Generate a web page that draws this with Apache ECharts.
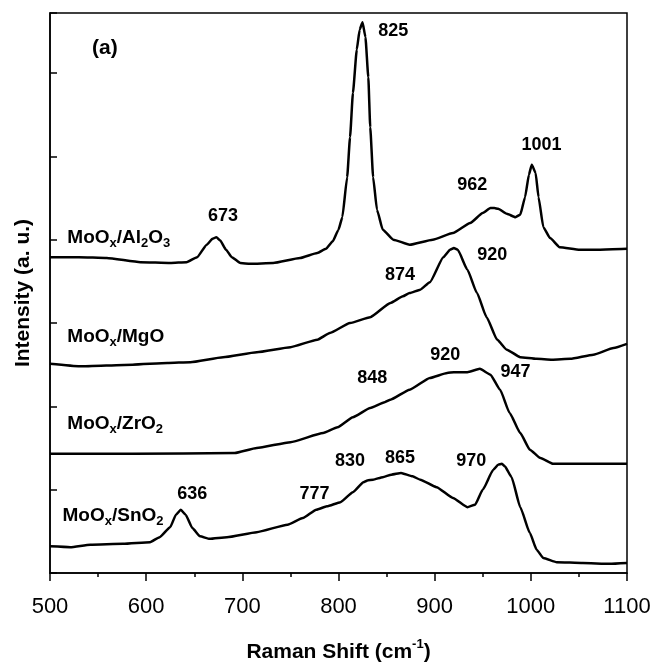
<!DOCTYPE html>
<html>
<head>
<meta charset="utf-8">
<script src="https://cdn.jsdelivr.net/npm/echarts@6/dist/echarts.min.js"></script>
<style>
  html, body { margin: 0; padding: 0; background: #fff; }
  #chart { width: 653px; height: 662px; }
</style>
</head>
<body>
<div id="chart"></div>
<script>
// Raman spectra of supported molybdenum oxide catalysts, offset vertically.
// Each spectrum: [Raman shift (cm-1), intensity (a. u., offset)]
const aluminaSpectrum = [
  [500,3.79],[530,3.79],[559,3.78],[594,3.73],[625,3.72],[642,3.73],[653,3.79],[663,3.94],
  [669,4.01],[673,4.03],[677,3.99],[683,3.88],[689,3.79],[698,3.72],[708,3.71],[732,3.72],
  [760,3.78],[778,3.84],[787,3.89],[794,3.98],[800,4.12],[804,4.27],[809,4.75],[812,5.23],
  [815,5.76],[819,6.28],[822,6.52],[825,6.61],[828,6.43],[831,5.95],[833,5.35],[836,4.75],
  [840,4.36],[846,4.12],[857,4.00],[874,3.94],[898,4.00],[919,4.08],[937,4.20],[950,4.32],
  [958,4.38],[962,4.38],[966,4.37],[975,4.31],[984,4.27],[989,4.30],[994,4.51],[998,4.78],
  [1001,4.90],[1005,4.80],[1008,4.51],[1013,4.15],[1020,4.02],[1030,3.91],[1051,3.88],
  [1072,3.88],[1100,3.89]
];
const magnesiaSpectrum = [
  [500,2.51],[531,2.48],[586,2.50],[622,2.52],[646,2.53],[680,2.59],[715,2.65],[750,2.71],
  [778,2.80],[791,2.88],[812,3.00],[833,3.07],[854,3.24],[867,3.32],[874,3.36],[885,3.40],
  [895,3.49],[909,3.79],[916,3.88],[920,3.90],[924,3.88],[934,3.64],[944,3.36],[954,3.07],
  [965,2.80],[975,2.68],[989,2.59],[1006,2.57],[1022,2.56],[1041,2.57],[1065,2.62],
  [1086,2.70],[1100,2.75]
];
const zirconiaSpectrum = [
  [500,1.43],[586,1.43],[692,1.44],[715,1.50],[750,1.57],[784,1.68],[799,1.75],[815,1.87],
  [833,1.98],[848,2.05],[854,2.08],[874,2.20],[895,2.34],[913,2.40],[920,2.41],[934,2.41],
  [947,2.45],[958,2.38],[968,2.20],[978,1.92],[989,1.68],[999,1.48],[1010,1.38],[1023,1.31],
  [1100,1.31]
];
const tinOxideSpectrum = [
  [500,0.32],[521,0.31],[542,0.34],[576,0.35],[604,0.37],[614,0.43],[625,0.55],[631,0.70],
  [636,0.76],[641,0.70],[648,0.54],[656,0.44],[666,0.41],[684,0.43],[715,0.49],[747,0.58],
  [763,0.66],[777,0.76],[788,0.80],[802,0.85],[815,0.97],[826,1.09],[830,1.11],[836,1.12],
  [846,1.15],[855,1.18],[865,1.20],[877,1.16],[885,1.12],[902,1.03],[919,0.90],[934,0.79],
  [942,0.82],[950,1.00],[961,1.24],[966,1.30],[970,1.31],[973,1.28],[980,1.15],[989,0.79],
  [999,0.48],[1006,0.28],[1013,0.18],[1027,0.13],[1054,0.12],[1082,0.11],[1100,0.12]
];

// Sample names (rich text: s = subscript)
const sampleNames = ['MoO{s|x}/Al{s|2}O{s|3}', 'MoO{s|x}/MgO', 'MoO{s|x}/ZrO{s|2}', 'MoO{s|x}/SnO{s|2}'];
const sampleNameAnchors = [[518, 4.02], [518, 2.83], [518, 1.79], [513, 0.69]];

// Band positions (cm-1) and where each note sits
const bandPositions = [673, 825, 962, 1001, 874, 920, 848, 920, 947, 636, 777, 830, 865, 970];
const bandNoteAnchors = [
  [680, 4.28], [857, 6.50], [939, 4.66], [1011, 5.14],
  [864, 3.58], [960, 3.82],
  [835, 2.34], [911, 2.62], [984, 2.41],
  [648, 0.95], [775, 0.95], [812, 1.34], [864, 1.38], [938, 1.34]
];
const panelTag = '(a)';
const panelTagAnchor = [557, 6.30];

const xTickValues = { min: 500, max: 1100, step: 100 };

const FONT = 'Liberation Sans, Arial, Helvetica, sans-serif';

const chart = echarts.init(document.getElementById('chart'), null, { renderer: 'canvas' });

function spectrumSeries(data) {
  return {
    type: 'line',
    data: data,
    showSymbol: false,
    smooth: 0.15,
    smoothMonotone: 'x',
    lineStyle: { color: '#000', width: 2.5, join: 'round' },
    emphasis: { disabled: true },
    z: 3
  };
}

function textSeries(items) {
  // items: [{ at: [x, y], text, style }]
  return {
    type: 'custom',
    data: items.map(it => it.at),
    clip: false,
    silent: true,
    z: 5,
    renderItem: function (params, api) {
      const item = items[params.dataIndex];
      const p = api.coord([api.value(0), api.value(1)]);
      return {
        type: 'text',
        x: p[0],
        y: p[1],
        style: Object.assign({
          text: item.text,
          fill: '#000',
          fontFamily: FONT,
          fontWeight: 'bold',
          fontSize: 18,
          align: 'center',
          verticalAlign: 'middle'
        }, item.style || {})
      };
    }
  };
}

const bandNotes = bandPositions.map((b, i) => ({ at: bandNoteAnchors[i], text: String(b) }));
const sampleNotes = sampleNames.map((n, i) => ({
  at: sampleNameAnchors[i],
  text: n,
  style: {
    align: 'left',
    fontSize: 19,
    lineHeight: 24,
    rich: {
      s: { fontFamily: FONT, fontWeight: 'bold', fontSize: 13, lineHeight: 13, verticalAlign: 'bottom', fill: '#000' }
    }
  }
}));
const tagNote = [{ at: panelTagAnchor, text: panelTag, style: { fontSize: 21 } }];

const option = {
  animation: false,
  backgroundColor: '#fff',
  grid: {
    left: 50, right: 26, top: 13, bottom: 89,
    show: true, borderColor: '#000', borderWidth: 1.5,
    containLabel: false, outerBoundsMode: 'none'
  },
  xAxis: {
    type: 'value',
    min: xTickValues.min, max: xTickValues.max, interval: xTickValues.step,
    axisLine: { onZero: false, lineStyle: { color: '#000', width: 1.5 } },
    axisTick: { inside: false, length: 8, lineStyle: { color: '#000', width: 1.5 } },
    minorTick: { show: true, splitNumber: 2, length: 4, lineStyle: { color: '#000', width: 1.5 } },
    splitLine: { show: false },
    axisLabel: { color: '#000', fontSize: 22, fontFamily: FONT, margin: 23, formatter: v => String(v) },
    name: 'Raman Shift (cm{sup|-1})',
    nameLocation: 'middle',
    nameGap: 65,
    nameTextStyle: {
      color: '#000', fontSize: 21, fontWeight: 'bold', fontFamily: FONT, lineHeight: 28,
      rich: {
        sup: { fontSize: 13, fontWeight: 'bold', fontFamily: FONT, lineHeight: 13, verticalAlign: 'top', color: '#000' }
      }
    }
  },
  yAxis: {
    type: 'value',
    min: 0, max: 6.72, interval: 1,
    axisLine: { lineStyle: { color: '#000', width: 1.5 } },
    axisTick: { inside: true, length: 7, lineStyle: { color: '#000', width: 1.5 } },
    axisLabel: { show: false },
    splitLine: { show: false },
    name: 'Intensity (a. u.)',
    nameLocation: 'middle',
    nameGap: 16,
    nameTextStyle: { color: '#000', fontSize: 21, fontWeight: 'bold', fontFamily: FONT }
  },
  series: [
    spectrumSeries(aluminaSpectrum),
    spectrumSeries(magnesiaSpectrum),
    spectrumSeries(zirconiaSpectrum),
    spectrumSeries(tinOxideSpectrum),
    textSeries(bandNotes),
    textSeries(sampleNotes),
    textSeries(tagNote)
  ]
};

chart.setOption(option);
</script>
</body>
</html>
